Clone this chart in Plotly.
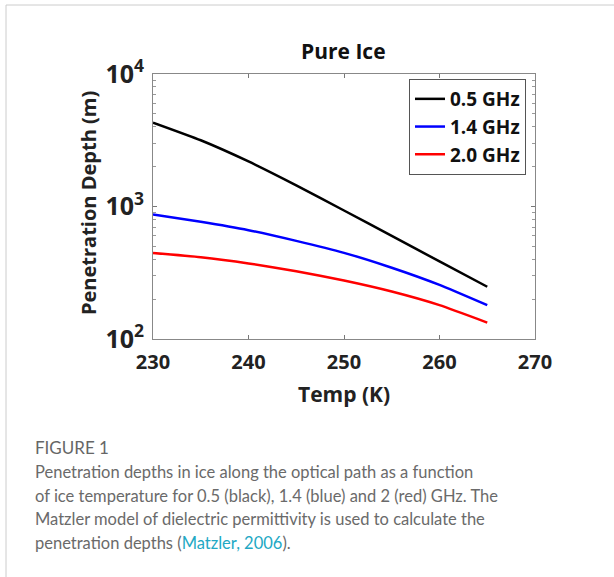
import plotly.graph_objects as go

# ---- data ----
temps = [230, 235, 240, 245, 250, 255, 260, 265]
depth_05 = [4295, 3162, 2188, 1445, 933, 600, 385, 248]
depth_14 = [869, 767, 663, 550, 447, 345, 256, 180]
depth_20 = [445, 414, 372, 325, 276, 228, 180, 133]
series_names = ["0.5 GHz", "1.4 GHz", "2.0 GHz"]
series_colors = ["#000000", "#0000ff", "#ff0000"]

W, H = 614, 577
L, R, T, B = 153, 535, 74, 339  # plot area in px


def px(x):
    return (x - L) / (R - L)


def py(y):
    return (B - y) / (B - T)


fig = go.Figure()
for name, ys, col in zip(series_names, [depth_05, depth_14, depth_20], series_colors):
    fig.add_trace(go.Scatter(x=temps, y=ys, mode="lines", name=name,
                             line=dict(color=col, width=2.5, shape="spline", smoothing=0.5)))

fig.update_layout(
    width=W, height=H,
    margin=dict(l=L, r=W - R, t=T, b=H - B),
    paper_bgcolor="white", plot_bgcolor="white",
    showlegend=True,
    legend=dict(x=px(526), y=py(79), xanchor="right", yanchor="top",
                bordercolor="#555555", borderwidth=1, bgcolor="white",
                font=dict(family="Open Sans", size=19, color="#111111", weight="bold"),
                tracegroupgap=0, itemwidth=30),
    xaxis=dict(range=[230, 270], tickvals=[230, 240, 250, 260, 270],
               ticks="inside", ticklen=4, tickcolor="#777777",
               showline=True, linecolor="#888888", linewidth=1, mirror="ticks",
               showgrid=False, zeroline=False,
               tickfont=dict(family="Open Sans", size=20, color="#222222", weight="bold"),
               ticklabelstandoff=5),
    yaxis=dict(type="log", range=[2, 4], dtick=1, exponentformat="power",
               ticks="inside", ticklen=4, tickcolor="#777777",
               showline=True, linecolor="#888888", linewidth=1, mirror="ticks",
               showgrid=False, zeroline=False,
               minor=dict(ticks="inside", ticklen=3, dtick="D1", tickcolor="#999999", showgrid=False),
               tickfont=dict(family="Open Sans", size=20, color="#222222", weight="bold"),
               ticklabelstandoff=4),
)

annos = [
    dict(text="<b>Pure Ice</b>", x=px(343), y=py(51), font=dict(family="Open Sans", size=21, color="#111111"),
         xanchor="center", yanchor="middle"),
    dict(text="<b>Temp (K)</b>", x=px(344), y=py(394), font=dict(family="Open Sans", size=21, color="#222222"),
         xanchor="center", yanchor="middle"),
    dict(text="<b>Penetration Depth (m)</b>", x=px(88), y=py(203), textangle=-90,
         font=dict(family="Open Sans", size=20, color="#222222"), xanchor="center", yanchor="middle"),
    dict(text="FIGURE 1", x=px(33), y=py(447), font=dict(family="Lato", size=17, color="#666666"),
         xanchor="left", yanchor="middle"),
]
cap_lines = [
    "Penetration depths in ice along the optical path as a function",
    "of ice temperature for 0.5 (black), 1.4 (blue) and 2 (red) GHz. The",
    "Matzler model of dielectric permittivity is used to calculate the",
    "penetration depths (<span style='color:#22a8c4'>Matzler, 2006</span>).",
]
for i, line in enumerate(cap_lines):
    annos.append(dict(text=line, x=px(33), y=py(472 + i * 23.7),
                      font=dict(family="Lato", size=16.5, color="#6a6a6a"),
                      xanchor="left", yanchor="middle"))
for a in annos:
    a.update(xref="paper", yref="paper", showarrow=False)
fig.update_layout(annotations=annos)

# page frame lines
fig.add_shape(type="line", xref="paper", yref="paper", x0=px(6), x1=px(614), y0=py(5), y1=py(5),
              line=dict(color="#cccccc", width=1))
fig.add_shape(type="line", xref="paper", yref="paper", x0=px(6), x1=px(6), y0=py(5), y1=py(577),
              line=dict(color="#cccccc", width=1))

fig.write_html("out.html", config={"displayModeBar": False},
               post_script="document.body.style.margin='0';")
